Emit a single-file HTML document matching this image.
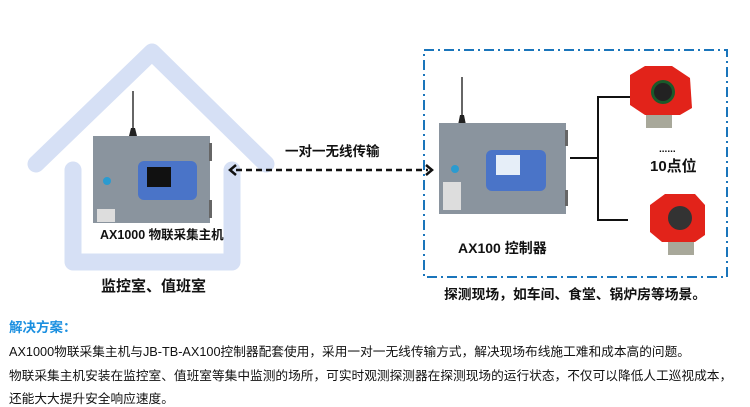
<!DOCTYPE html>
<html><head><meta charset="utf-8"><style>
body{margin:0;width:750px;height:407px;background:#fff;position:relative;overflow:hidden;font-family:"Liberation Sans","Noto Sans CJK SC",sans-serif;color:#111}
.t{position:absolute;white-space:nowrap;line-height:1}
.b{font-weight:bold}
</style></head><body>
<svg width="750" height="407" style="position:absolute;left:0;top:0">
<g fill="none" stroke="#d6e0f5" stroke-width="17" stroke-linecap="round" stroke-linejoin="round">
<polyline points="36,164 152,52 266,164"/>
<polyline points="73,170 73,262 232,262 232,170"/>
</g>
<line x1="133" y1="91" x2="133" y2="133" stroke="#333" stroke-width="1.5"/>
<path d="M129,136 L131,128 L135,128 L137,136Z" fill="#222"/>
<rect x="93" y="136" width="117" height="87" fill="#8a949e"/>
<rect x="209" y="143" width="3" height="18" fill="#666"/><rect x="209" y="200" width="3" height="18" fill="#666"/>
<rect x="138" y="161" width="59" height="39" rx="6" fill="#4a74c8"/>
<rect x="147" y="167" width="24" height="20" fill="#111"/>
<circle cx="107" cy="181" r="4" fill="#2b9bd0"/>
<rect x="97" y="209" width="18" height="13" fill="#ddd"/>
<line x1="236" y1="170" x2="428" y2="170" stroke="#111" stroke-width="2.5" stroke-dasharray="6,4"/>
<polyline points="236,165 230,170 236,175" fill="none" stroke="#111" stroke-width="2.5"/>
<polyline points="426,165 432,170 426,175" fill="none" stroke="#111" stroke-width="2.5"/>
<rect x="424" y="50" width="303" height="227" fill="none" stroke="#1a75bb" stroke-width="2" stroke-dasharray="10,4,2,4"/>
<line x1="462" y1="77" x2="462" y2="120" stroke="#333" stroke-width="1.5"/>
<path d="M458,125 L460,115 L464,115 L466,125Z" fill="#222"/>
<rect x="439" y="123" width="127" height="91" fill="#8a949e"/>
<rect x="565" y="130" width="3" height="16" fill="#666"/><rect x="565" y="190" width="3" height="16" fill="#666"/>
<rect x="486" y="150" width="60" height="41" rx="6" fill="#4a74c8"/>
<rect x="496" y="155" width="24" height="20" fill="#e6eef8"/>
<circle cx="455" cy="169" r="4" fill="#2b9bd0"/>
<rect x="443" y="182" width="18" height="28" fill="#ddd"/>
<polyline points="570,158 598,158" stroke="#111" stroke-width="2" fill="none"/>
<polyline points="630,97 598,97 598,220 628,220" stroke="#111" stroke-width="2" fill="none"/>
<rect x="646" y="110" width="26" height="18" fill="#a8a89a"/>
<path d="M630,75 L645,66 L672,66 L690,78 L692,108 L680,115 L645,115 L630,105Z" fill="#e2231a"/>
<circle cx="663" cy="92" r="12" fill="#1a5a2a"/><circle cx="663" cy="92" r="9" fill="#222"/>
<rect x="668" y="235" width="26" height="20" fill="#a8a89a"/>
<path d="M650,205 L665,194 L695,194 L705,205 L705,235 L695,242 L662,242 L650,232Z" fill="#e2231a"/>
<circle cx="680" cy="218" r="12" fill="#333"/>
</svg>
<div class="t b" style="left:100px;top:229px;font-size:12.5px">AX1000 物联采集主机</div>
<div class="t b" style="left:101px;top:279px;font-size:15px">监控室、值班室</div>
<div class="t b" style="left:285px;top:145px;font-size:13.5px">一对一无线传输</div>
<div class="t b" style="left:458px;top:241px;font-size:14px">AX100 控制器</div>
<div class="t b" style="left:659px;top:145px;font-size:10px">......</div>
<div class="t b" style="left:650px;top:159px;font-size:15px">10点位</div>
<div class="t b" style="left:444px;top:288px;font-size:13.8px">探测现场，如车间、食堂、锅炉房等场景。</div>
<div class="t b" style="left:9px;top:321px;font-size:13.5px;color:#1a8fe0">解决方案：</div>
<div class="t" style="left:9px;top:346px;font-size:12.7px">AX1000物联采集主机与JB-TB-AX100控制器配套使用，采用一对一无线传输方式，解决现场布线施工难和成本高的问题。</div>
<div class="t" style="left:9px;top:370px;font-size:12.7px">物联采集主机安装在监控室、值班室等集中监测的场所，可实时观测探测器在探测现场的运行状态，不仅可以降低人工巡视成本，</div>
<div class="t" style="left:9px;top:393px;font-size:12.7px">还能大大提升安全响应速度。</div>
</body></html>
